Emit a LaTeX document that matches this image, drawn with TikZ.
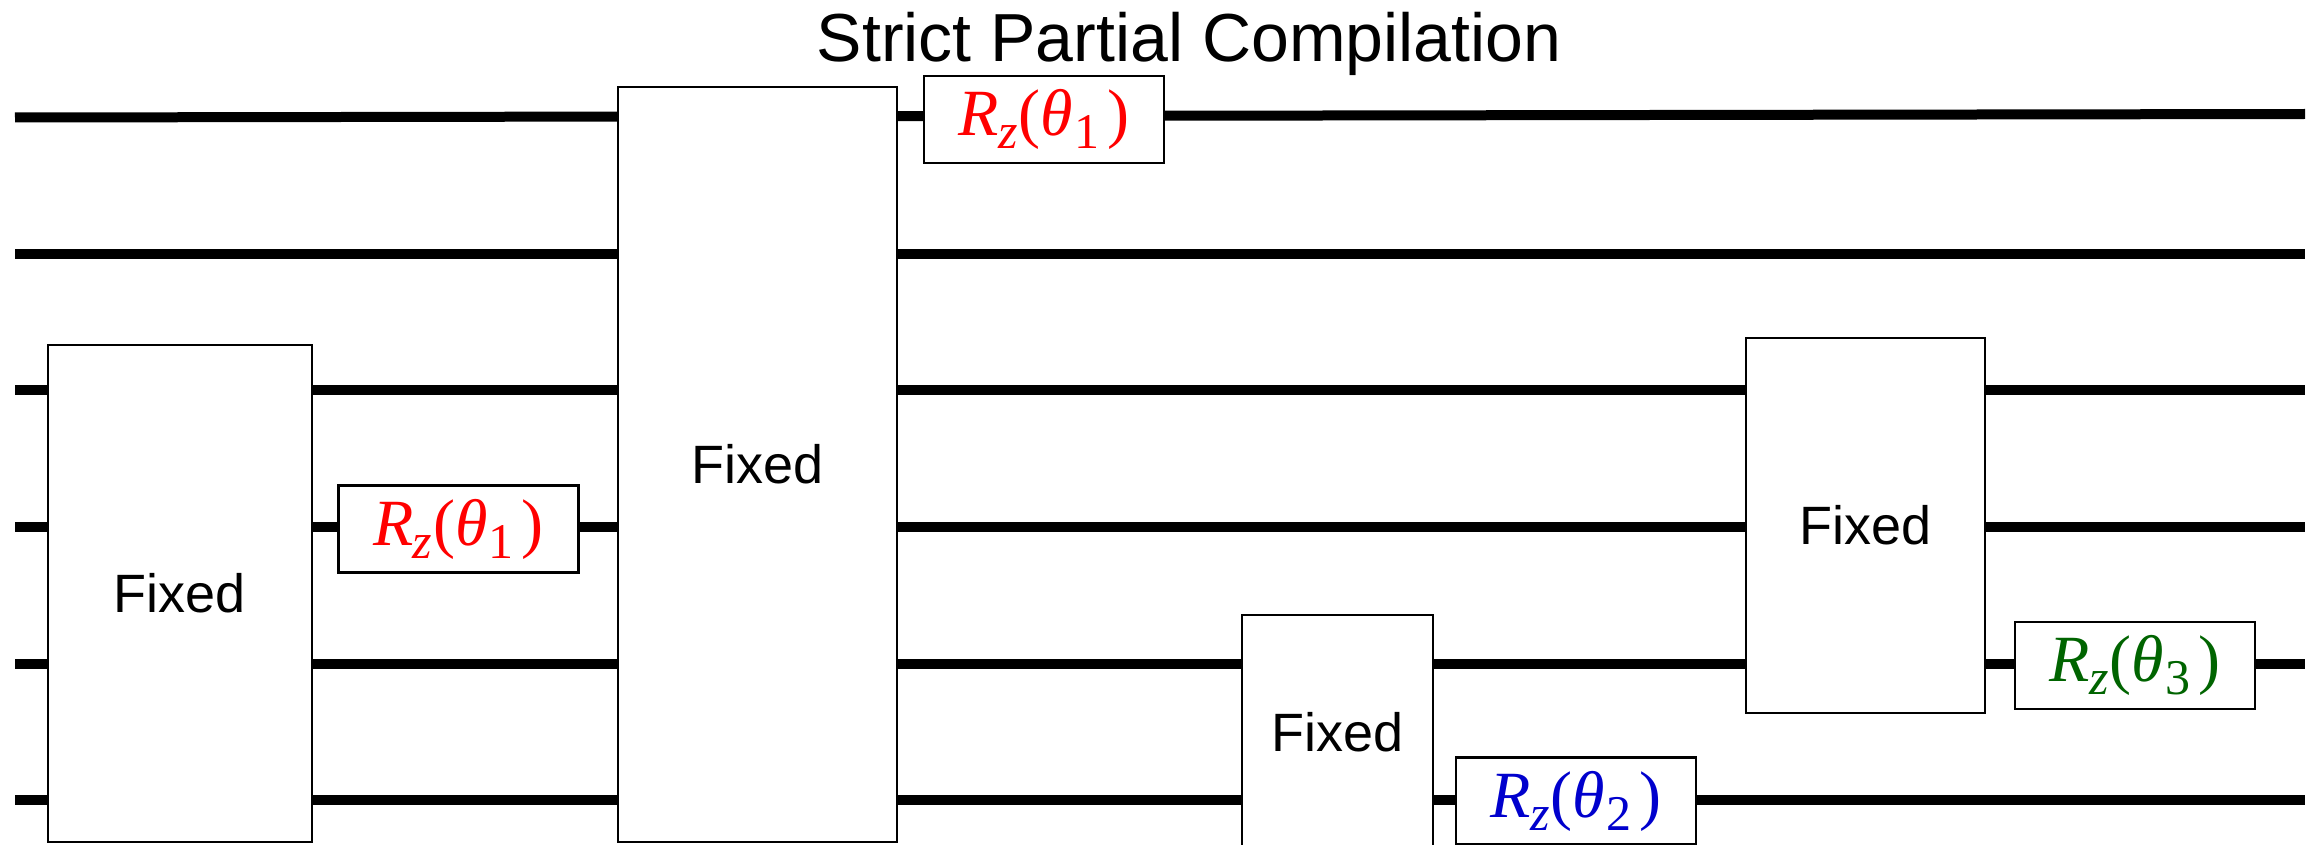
\documentclass[tikz,border=0pt]{standalone}
\usepackage{fontspec}
\setmainfont{Liberation Sans}
\newfontfamily\gateserif{Liberation Serif}
\definecolor{rzred}{RGB}{255,0,0}
\definecolor{rzblue}{RGB}{0,0,205}
\definecolor{rzgreen}{RGB}{0,100,0}
% R_z(theta_n) label set in Times-like italics
\newcommand{\rzlabel}[1]{\textit{R}\kern-1pt\raisebox{-13pt}{\fontsize{50}{50}\selectfont\textit{z}}\kern1pt(\textit{θ}\kern1pt\raisebox{-13pt}{\fontsize{50}{50}\selectfont #1}\kern8pt)}

\begin{document}
\begin{tikzpicture}[x=1pt,y=-1pt,
  wire/.style={line width=10pt},
  fixedgate/.style={draw, line width=2.8pt, fill=white, inner sep=0pt,
    font=\fontsize{54}{54}\selectfont},
  rzgate/.style={draw, line width=2.8pt, fill=white, inner sep=0pt,
    minimum width=240pt, minimum height=87pt,
    font=\gateserif\fontsize{66}{66}\selectfont},
]
\useasboundingbox[fill=white] (0,0) rectangle (2321,845);

% title
\node[anchor=base, font=\fontsize{68}{68}\selectfont] (title) at (1189,62) {Strict Partial Compilation};

% qubit wires
\coordinate (w1a) at (15,117.5);  \coordinate (w1b) at (2305,114);
\coordinate (w2a) at (15,254);    \coordinate (w2b) at (2305,254);
\coordinate (w3a) at (15,390);    \coordinate (w3b) at (2305,390);
\coordinate (w4a) at (15,527);    \coordinate (w4b) at (2305,527);
\coordinate (w5a) at (15,664);    \coordinate (w5b) at (2305,664);
\coordinate (w6a) at (15,800);    \coordinate (w6b) at (2305,800);
\foreach \i in {1,...,6} \draw[wire] (w\i a) -- (w\i b);

% fixed blocks
\node[fixedgate, minimum width=264pt, minimum height=497pt] (fixA) at (180,593.5) {Fixed};
\node[fixedgate, minimum width=279pt, minimum height=755pt] (fixB) at (757.5,464.5) {Fixed};
\node[fixedgate, minimum width=191pt, minimum height=235pt] (fixC) at (1337.5,732.5) {Fixed};
\node[fixedgate, minimum width=239pt, minimum height=375pt] (fixD) at (1865.5,525.5) {Fixed};

% parametrised rotations
\node[rzgate, text=rzred]   (rzA) at (1044,119.5)  {\rzlabel{1}};
\node[rzgate, text=rzred]   (rzB) at (458.5,529)   {\rzlabel{1}};
\node[rzgate, text=rzblue]  (rzC) at (1576,801)    {\rzlabel{2}};
\node[rzgate, text=rzgreen] (rzD) at (2135,665.5)  {\rzlabel{3}};
\end{tikzpicture}
\end{document}
